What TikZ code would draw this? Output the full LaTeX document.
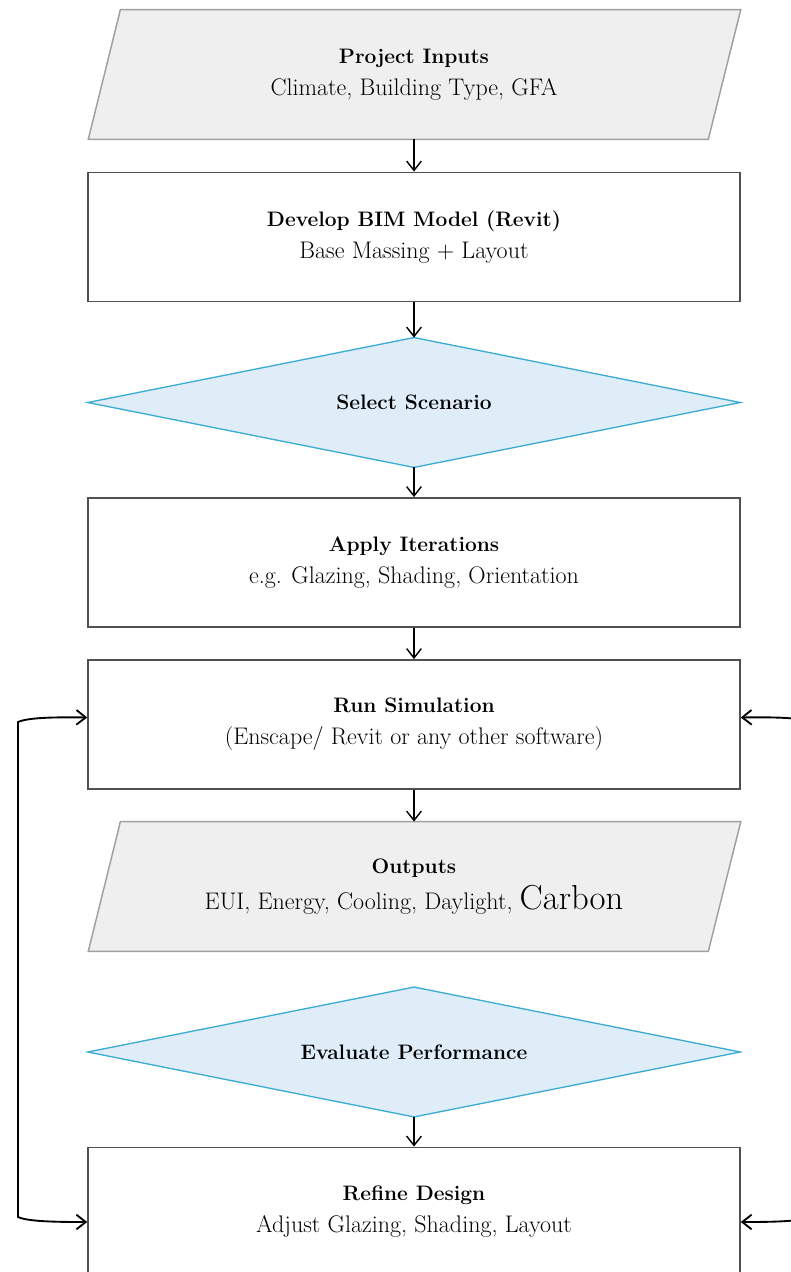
\documentclass[tikz,border=0pt]{standalone}
\usetikzlibrary{arrows.meta,backgrounds}
\definecolor{boxgray}{RGB}{80,80,80}
\definecolor{iodraw}{RGB}{160,160,160}
\definecolor{iofill}{RGB}{239,239,239}
\definecolor{decdraw}{RGB}{60,172,212}
\definecolor{decfill}{RGB}{223,237,249}
\newcommand{\ttl}[1]{{\fontsize{15.7pt}{24pt}\selectfont\bfseries #1}}
\tikzset{
  frame/.style={minimum width=489pt, minimum height=97pt, inner sep=0pt, align=center,
    font=\fontsize{18pt}{24pt}\selectfont},
  procbox/.style={frame, draw=boxgray, line width=1.15pt},
  iofig/.style={fill=iofill, draw=iodraw, line width=1.1pt},
  decfig/.style={fill=decfill, draw=decdraw, line width=1pt},
  flow/.style={-{Straight Barb[length=7pt,width=11pt]}, line width=1.05pt, black},
  loopflow/.style={{Straight Barb[length=7pt,width=11pt]}-{Straight Barb[length=7pt,width=11pt]}, line width=1.4pt, black},
}
\begin{document}
\begin{tikzpicture}[x=0.75pt,y=-0.75pt]
\useasboundingbox (0,0) rectangle (791,1272);
\clip (0,0) rectangle (791,1272);

\node[frame] (inputs) at (414,74.5) {\ttl{Project Inputs}\\Climate, Building Type, GFA};
\node[procbox] (bim) at (414,237) {\ttl{Develop BIM Model (Revit)}\\Base Massing + Layout};
\node[frame] (select) at (414,402.5) {\ttl{Select Scenario}};
\node[procbox] (apply) at (414,562.5) {\ttl{Apply Iterations}\\e.g. Glazing, Shading, Orientation};
\node[procbox] (run) at (414,724.5) {\ttl{Run Simulation}\\(Enscape/ Revit or any other software)};
\node[frame] (outputs) at (414,886.5) {\ttl{Outputs}\\[3pt]EUI, Energy, Cooling, Daylight, {\fontsize{26pt}{24pt}\selectfont Carbon}};
\node[frame] (evaluate) at (414,1052) {\ttl{Evaluate Performance}};
\node[procbox] (refine) at (414,1212) {\ttl{Refine Design}\\Adjust Glazing, Shading, Layout};

\begin{scope}[on background layer]
  \path[iofig] ([xshift=0.4pt]inputs.south west) -- ([xshift=-24pt]inputs.south east) -- ([xshift=0.4pt]inputs.north east) -- ([xshift=24.5pt]inputs.north west) -- cycle;
  \path[iofig] ([xshift=0.4pt]outputs.south west) -- ([xshift=-24pt]outputs.south east) -- ([xshift=0.4pt]outputs.north east) -- ([xshift=24.5pt]outputs.north west) -- cycle;
  \path[decfig] (select.north) -- (select.east) -- (select.south) -- (select.west) -- cycle;
  \path[decfig] (evaluate.north) -- (evaluate.east) -- (evaluate.south) -- (evaluate.west) -- cycle;
\end{scope}

\draw[flow] (inputs.south) -- (bim.north);
\draw[flow] (bim.south) -- (select.north);
\draw[flow] (select.south) -- (apply.north);
\draw[flow] (apply.south) -- (run.north);
\draw[flow] (run.south) -- (outputs.north);
\draw[flow] (evaluate.south) -- (refine.north);

\coordinate (lt) at (18,722);
\coordinate (lb) at (18,1217);
\coordinate (rt) at (810,722);
\coordinate (rb) at (810,1217);
\draw[loopflow] ([yshift=5.25pt]run.west) .. controls (55,717) and (28,717.5) .. (lt) -- (lb) .. controls (28,1221.5) and (55,1222) .. ([yshift=-7.5pt]refine.west);
\draw[loopflow] ([yshift=5.25pt]run.east) .. controls (773,717) and (800,717.5) .. (rt) -- (rb) .. controls (800,1221.5) and (773,1222) .. ([yshift=-7.5pt]refine.east);
\end{tikzpicture}
\end{document}
